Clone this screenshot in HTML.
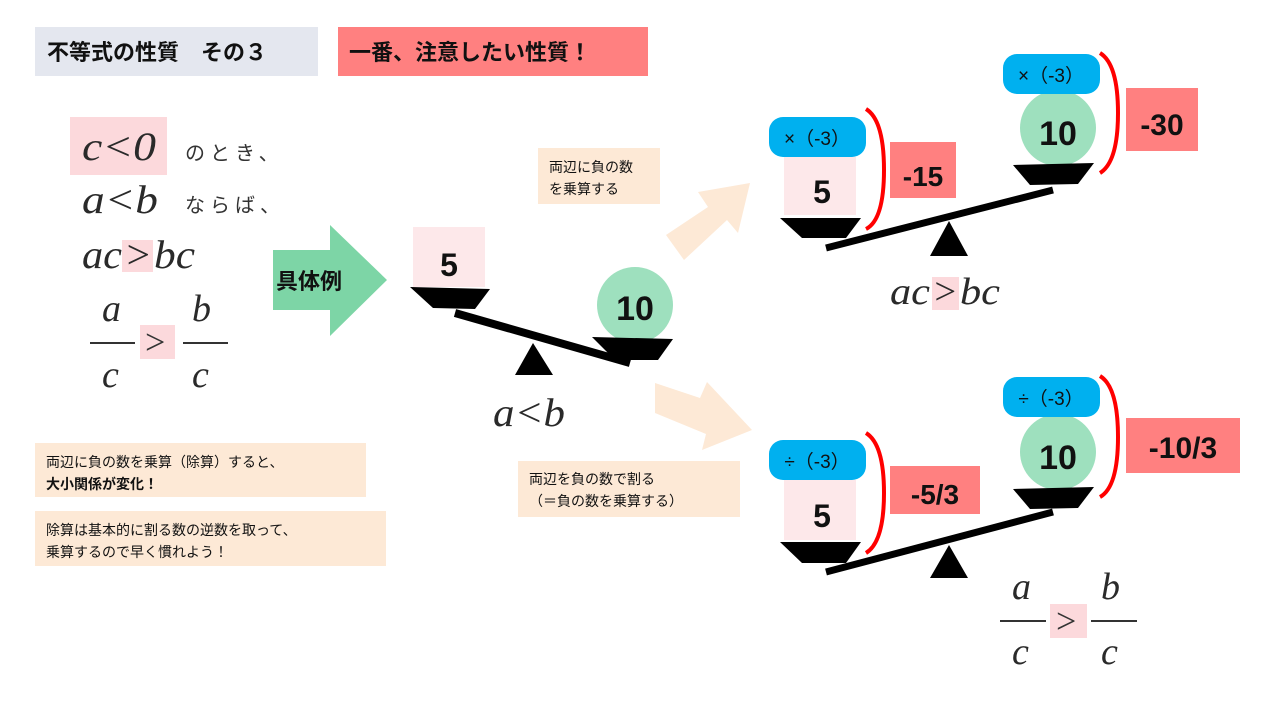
<!DOCTYPE html>
<html><head><meta charset="utf-8"><style>
body{margin:0;width:1280px;height:720px;background:#fff;overflow:hidden}
svg{display:block}
.j{font-family:"Liberation Sans","Noto Sans CJK JP",sans-serif}
.m{font-family:"Liberation Serif",serif;font-style:italic;fill:#2a2a2a}
.n{font-family:"Liberation Sans",sans-serif;font-weight:bold}
</style></head><body>
<svg width="1280" height="720" viewBox="0 0 1280 720" xmlns="http://www.w3.org/2000/svg">
<!-- header -->
<rect x="35" y="27" width="283" height="49" fill="#e4e7ef"/>
<text x="47" y="60" class="j" font-size="22" font-weight="bold" fill="#111">不等式の性質　その３</text>
<rect x="338" y="27" width="310" height="49" fill="#ff8080"/>
<text x="349" y="60" class="j" font-size="22" font-weight="bold" fill="#111">一番、注意したい性質！</text>

<!-- left conditions -->
<rect x="70" y="117" width="97" height="58" fill="#fcd9dc"/>
<text x="82" y="160" class="m" font-size="40" textLength="74" lengthAdjust="spacingAndGlyphs">c&lt;0</text>
<text x="185" y="160" class="j" font-size="20" fill="#333" letter-spacing="5">のとき、</text>
<text x="82" y="213" class="m" font-size="40" textLength="76" lengthAdjust="spacingAndGlyphs">a&lt;b</text>
<text x="185" y="212" class="j" font-size="20" fill="#333" letter-spacing="5">ならば、</text>
<rect x="122" y="240" width="31" height="32" fill="#fcd9dc"/>
<text x="82" y="268" class="m" font-size="40" textLength="40" lengthAdjust="spacingAndGlyphs">ac</text>
<text x="124" y="268" class="m" font-size="40" textLength="28" lengthAdjust="spacingAndGlyphs">&gt;</text>
<text x="154" y="268" class="m" font-size="40" textLength="41" lengthAdjust="spacingAndGlyphs">bc</text>
<text x="102" y="321" class="m" font-size="38">a</text>
<line x1="90" y1="343" x2="135" y2="343" stroke="#333" stroke-width="2"/>
<text x="102" y="387" class="m" font-size="38">c</text>
<rect x="140" y="325" width="35" height="34" fill="#fcd9dc"/>
<text x="145" y="354" font-family="Liberation Serif,serif" font-size="36" fill="#333">&gt;</text>
<text x="192" y="321" class="m" font-size="38">b</text>
<line x1="183" y1="343" x2="228" y2="343" stroke="#333" stroke-width="2"/>
<text x="192" y="387" class="m" font-size="38">c</text>

<!-- green arrow -->
<polygon points="273,250 330,250 330,225 387,280 330,336 330,310 273,310" fill="#7dd5a6"/>
<text x="276" y="289" class="j" font-size="22" font-weight="bold" fill="#111">具体例</text>

<!-- notes -->
<rect x="35" y="443" width="331" height="54" fill="#fde9d6"/>
<text x="46" y="467" class="j" font-size="14" fill="#111">両辺に負の数を乗算（除算）すると、</text>
<text x="46" y="489" class="j" font-size="14" font-weight="bold" fill="#111">大小関係が変化！</text>
<rect x="35" y="511" width="351" height="55" fill="#fde9d6"/>
<text x="46" y="535" class="j" font-size="14" fill="#111">除算は基本的に割る数の逆数を取って、</text>
<text x="46" y="557" class="j" font-size="14" fill="#111">乗算するので早く慣れよう！</text>

<!-- middle scale -->
<rect x="413" y="227" width="72" height="60" fill="#fde8ea"/>
<text x="449" y="276" text-anchor="middle" class="n" font-size="32" fill="#111">5</text>
<polygon points="410,287 490,289 475,309 433,308" fill="#000"/>
<line x1="455" y1="313" x2="630" y2="363" stroke="#000" stroke-width="8"/>
<polygon points="533,343 515,375 553,375" fill="#000"/>
<circle cx="635" cy="305" r="38" fill="#9ee0be"/>
<text x="635" y="320" text-anchor="middle" class="n" font-size="34" fill="#111">10</text>
<polygon points="592,337 673,339 658,360 615,360" fill="#000"/>
<text x="493" y="426" class="m" font-size="40" textLength="72" lengthAdjust="spacingAndGlyphs">a&lt;b</text>

<!-- peach arrows -->
<polygon points="666,235 708,207 698,192 750,183 738,233 727,220 684,260" fill="#fde9d6"/>
<polygon points="655,383 700,398 707,382 752,430 702,450 706,434 655,413" fill="#fde9d6"/>
<rect x="538" y="148" width="122" height="56" fill="#fde9d6"/>
<text x="549" y="172" class="j" font-size="14" fill="#111">両辺に負の数</text>
<text x="549" y="194" class="j" font-size="14" fill="#111">を乗算する</text>
<rect x="518" y="461" width="222" height="56" fill="#fde9d6"/>
<text x="529" y="484" class="j" font-size="14" fill="#111">両辺を負の数で割る</text>
<text x="529" y="506" class="j" font-size="14" fill="#111">（＝負の数を乗算する）</text>

<!-- upper right scale -->
<rect x="784" y="157" width="72" height="58" fill="#fde8ea"/>
<text x="822" y="203" text-anchor="middle" class="n" font-size="32" fill="#111">5</text>
<rect x="769" y="117" width="97" height="40" rx="14" fill="#00b0ef"/>
<text x="817" y="145" text-anchor="middle" class="j" font-size="19" fill="#111">×（-3）</text>
<polygon points="780,218 861,218 846,238 802,238" fill="#000"/>
<line x1="826" y1="248" x2="1053" y2="190" stroke="#000" stroke-width="7"/>
<polygon points="949,221 930,256 968,256" fill="#000"/>
<circle cx="1058" cy="128" r="38" fill="#9ee0be"/>
<text x="1058" y="145" text-anchor="middle" class="n" font-size="34" fill="#111">10</text>
<rect x="1003" y="54" width="97" height="40" rx="14" fill="#00b0ef"/>
<text x="1051" y="82" text-anchor="middle" class="j" font-size="19" fill="#111">×（-3）</text>
<polygon points="1013,165 1094,163 1078,184 1030,185" fill="#000"/>
<path d="M866,109 Q884,120 884,170 Q884,220 866,229" fill="none" stroke="#ff0000" stroke-width="4"/>
<rect x="890" y="142" width="66" height="56" fill="#ff8080"/>
<text x="923" y="186" text-anchor="middle" class="n" font-size="28" fill="#111">-15</text>
<path d="M1100,53 Q1118,64 1118,113 Q1118,162 1100,173" fill="none" stroke="#ff0000" stroke-width="4"/>
<rect x="1126" y="88" width="72" height="63" fill="#ff8080"/>
<text x="1162" y="135" text-anchor="middle" class="n" font-size="30" fill="#111">-30</text>
<rect x="932" y="277" width="27" height="33" fill="#fcd9dc"/>
<text x="890" y="304" class="m" font-size="38" textLength="40" lengthAdjust="spacingAndGlyphs">ac</text>
<text x="932" y="304" class="m" font-size="38" textLength="26" lengthAdjust="spacingAndGlyphs">&gt;</text>
<text x="960" y="304" class="m" font-size="38" textLength="40" lengthAdjust="spacingAndGlyphs">bc</text>

<!-- lower right scale -->
<rect x="784" y="480" width="72" height="60" fill="#fde8ea"/>
<text x="822" y="527" text-anchor="middle" class="n" font-size="32" fill="#111">5</text>
<rect x="769" y="440" width="97" height="40" rx="14" fill="#00b0ef"/>
<text x="817" y="468" text-anchor="middle" class="j" font-size="19" fill="#111">÷（-3）</text>
<polygon points="780,542 861,542 846,563 802,563" fill="#000"/>
<line x1="826" y1="572" x2="1053" y2="512" stroke="#000" stroke-width="7"/>
<polygon points="949,545 930,578 968,578" fill="#000"/>
<circle cx="1058" cy="452" r="38" fill="#9ee0be"/>
<text x="1058" y="469" text-anchor="middle" class="n" font-size="34" fill="#111">10</text>
<rect x="1003" y="377" width="97" height="40" rx="14" fill="#00b0ef"/>
<text x="1051" y="405" text-anchor="middle" class="j" font-size="19" fill="#111">÷（-3）</text>
<polygon points="1013,489 1094,487 1078,508 1030,509" fill="#000"/>
<path d="M866,433 Q884,444 884,493 Q884,542 866,553" fill="none" stroke="#ff0000" stroke-width="4"/>
<rect x="890" y="466" width="90" height="48" fill="#ff8080"/>
<text x="935" y="504" text-anchor="middle" class="n" font-size="28" fill="#111">-5/3</text>
<path d="M1100,376 Q1118,387 1118,437 Q1118,487 1100,497" fill="none" stroke="#ff0000" stroke-width="4"/>
<rect x="1126" y="418" width="114" height="55" fill="#ff8080"/>
<text x="1183" y="458" text-anchor="middle" class="n" font-size="30" fill="#111">-10/3</text>
<text x="1012" y="599" class="m" font-size="38">a</text>
<line x1="1000" y1="621" x2="1046" y2="621" stroke="#333" stroke-width="2"/>
<text x="1012" y="664" class="m" font-size="38">c</text>
<rect x="1050" y="604" width="37" height="34" fill="#fcd9dc"/>
<text x="1056" y="633" font-family="Liberation Serif,serif" font-size="36" fill="#333">&gt;</text>
<text x="1101" y="599" class="m" font-size="38">b</text>
<line x1="1091" y1="621" x2="1137" y2="621" stroke="#333" stroke-width="2"/>
<text x="1101" y="664" class="m" font-size="38">c</text>
</svg>
</body></html>
